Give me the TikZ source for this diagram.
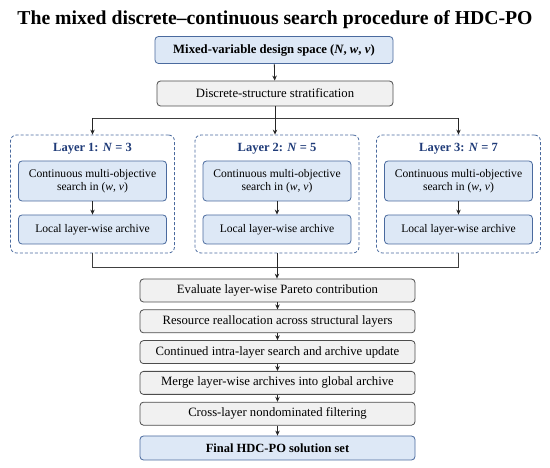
\documentclass[tikz,border=0pt]{standalone}
\usepackage{fontspec}
\setmainfont{Liberation Serif}
\usetikzlibrary{arrows.meta}
\definecolor{edgeblue}{HTML}{4A6A9E}
\definecolor{fillblue}{HTML}{DDE8F6}
\definecolor{textblue}{HTML}{1F3B78}
\definecolor{fillgray}{HTML}{F1F1F1}
\definecolor{edgegray}{HTML}{4D4D4D}
\begin{document}
\begin{tikzpicture}[x=1pt,y=-1pt,
  arr/.style={-{Stealth[length=5pt,width=4.5pt]},thick,black!85},
  line/.style={thick,black!75},
  bluebox/.style={draw=edgeblue,fill=fillblue,thick,rounded corners=3.5pt,align=center,font=\fontsize{11.6}{13}\selectfont,inner sep=2pt},
  graybox/.style={draw=edgegray,fill=fillgray,thick,rounded corners=3.5pt,align=center,font=\fontsize{12.7}{14}\selectfont,inner sep=2pt},
  layerbox/.style={draw=edgeblue,thick,dash pattern=on 3pt off 2pt,rounded corners=6pt,minimum width=164,minimum height=118}]
\useasboundingbox (0,0) rectangle (550,468);

\node[font=\fontsize{19.7}{23}\selectfont\bfseries] (title) at (275,20)
  {The mixed discrete--continuous search procedure of HDC-PO};

\node[bluebox,minimum width=238,minimum height=27,font=\fontsize{12.7}{14}\selectfont\bfseries] (space) at (274,50)
  {Mixed-variable design space (\textit{N}, \textit{w}, \textit{v})};
\node[graybox,minimum width=236,minimum height=25] (strat) at (275,93.5)
  {Discrete-structure stratification};
\draw[arr] (space) -- (strat);

\foreach \N/\cx [count=\lay] in {3/92.5,5/277,7/458.5}{ % loop over layers
  \node[layerbox] (lay\lay) at (\cx,194) {};
  \node[font=\fontsize{12.5}{14}\selectfont\bfseries,text=textblue] (head\lay) at (\cx,149)
    {Layer \lay: \textit{N} = \N};
  \node[bluebox,minimum width=148,minimum height=40] (search\lay) at (\cx,181)
    {Continuous multi-objective\\search in (\textit{w}, \textit{v})};
  \node[bluebox,minimum width=148,minimum height=29] (arch\lay) at (\cx,229.5)
    {Local layer-wise archive};
  \draw[arr] (search\lay) -- (arch\lay);
}

% split to the layers
\coordinate (splitL) at (lay1.north |- 0,118);
\coordinate (splitR) at (lay3.north |- 0,118);
\draw[line] (splitL) -- (splitR);
\draw[arr] (strat.south) -- (strat.south |- lay2.north);
\draw[arr] (splitL) -- (lay1.north);
\draw[arr] (splitR) -- (lay3.north);

\foreach \txt [count=\k, remember=\k as \kprev (initially 0)]
   in {Evaluate layer-wise Pareto contribution,
       Resource reallocation across structural layers,
       Continued intra-layer search and archive update,
       Merge layer-wise archives into global archive,
       Cross-layer nondominated filtering}{ % loop over stages
  \node[graybox,minimum width=275,minimum height=23] (stage\k) at (277.5,{290.5+30.8*(\k-1)}) {\txt};
  \ifnum\kprev>0
    \draw[arr] (stage\kprev) -- (stage\k);
  \fi
}
\node[bluebox,minimum width=275,minimum height=24,font=\fontsize{12.5}{14}\selectfont\bfseries] (final) at (277.5,448)
  {Final HDC-PO solution set};
\draw[arr] (stage5) -- (final);

% merge from the layers
\coordinate (joinL) at (lay1.south |- 0,267);
\coordinate (joinR) at (lay3.south |- 0,267);
\draw[line] (lay1.south) -- (joinL) -- (joinR) -- (lay3.south);
\draw[arr] (lay2.south) -- (lay2.south |- stage1.north);
\end{tikzpicture}
\end{document}
